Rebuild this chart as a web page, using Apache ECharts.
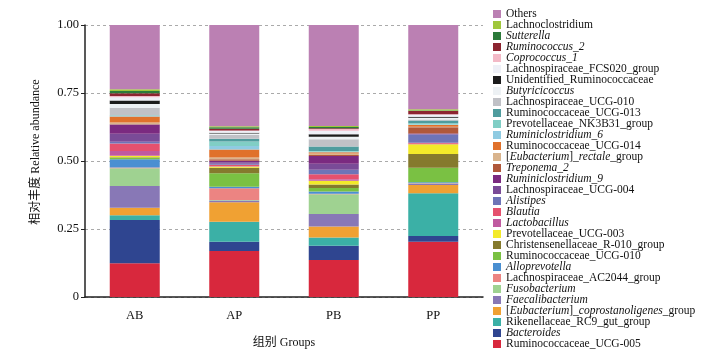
<!DOCTYPE html>
<html>
<head>
<meta charset="utf-8">
<script src="https://cdn.jsdelivr.net/npm/echarts@6/dist/echarts.min.js"></script>
<style>
html,body{margin:0;padding:0;background:#fff;}
#chart{width:706px;height:356px;}
</style>
</head>
<body>
<div id="chart"></div>
<script>
// Groups (x categories)
const categories = ['AB', 'AP', 'PB', 'PP'];

// Taxa, stacked from bottom to top
const seriesNames = [
  'Ruminococcaceae_UCG-005',
  'Bacteroides',
  'Rikenellaceae_RC9_gut_group',
  '[Eubacterium]_coprostanoligenes_group',
  'Faecalibacterium',
  'Fusobacterium',
  'Lachnospiraceae_AC2044_group',
  'Alloprevotella',
  'Ruminococcaceae_UCG-010',
  'Christensenellaceae_R-010_group',
  'Prevotellaceae_UCG-003',
  'Lactobacillus',
  'Blautia',
  'Alistipes',
  'Lachnospiraceae_UCG-004',
  'Ruminiclostridium_9',
  'Treponema_2',
  '[Eubacterium]_rectale_group',
  'Ruminococcaceae_UCG-014',
  'Ruminiclostridium_6',
  'Prevotellaceae_NK3B31_group',
  'Ruminococcaceae_UCG-013',
  'Lachnospiraceae_UCG-010',
  'Butyricicoccus',
  'Unidentified_Ruminococcaceae',
  'Lachnospiraceae_FCS020_group',
  'Coprococcus_1',
  'Ruminococcus_2',
  'Sutterella',
  'Lachnoclostridium',
  'Others'
];

// Relative abundance per group, aligned with seriesNames
const abValues = [0.124,0.159,0.018,0.027,0.080,0.065,0.003,0.030,0.006,0.002,0.005,0.018,0.027,0.007,0.029,0.034,0.001,0.007,0.022,0.001,0.002,0.001,0.028,0.014,0.012,0.012,0.005,0.010,0.008,0.007,0.236];
const apValues = [0.169,0.034,0.074,0.071,0.007,0.002,0.043,0.005,0.050,0.020,0.005,0.002,0.004,0.004,0.005,0.006,0.005,0.007,0.029,0.013,0.017,0.010,0.014,0.005,0.003,0.006,0.002,0.007,0.005,0.004,0.372];
const pbValues = [0.136,0.052,0.031,0.040,0.046,0.073,0.002,0.008,0.013,0.013,0.013,0.006,0.018,0.017,0.022,0.028,0.004,0.006,0.004,0.002,0.003,0.016,0.027,0.009,0.009,0.013,0.007,0.002,0.005,0.004,0.371];
const ppValues = [0.203,0.021,0.157,0.031,0.003,0.001,0.002,0.004,0.053,0.051,0.036,0.001,0.004,0.030,0.002,0.002,0.023,0.002,0.006,0.002,0.005,0.010,0.004,0.006,0.004,0.007,0.002,0.012,0.002,0.004,0.310];

// Y-axis ticks
const yTicks = [0, 0.25, 0.5, 0.75, 1];

// Style (not data)
const seriesColors = [
  '#D8283D','#2F4590','#3BB0A6','#F0A133','#8878B6','#9FD291','#EC8482','#4A8FD1',
  '#7AC143','#857A2D','#F3EA2A','#C05AA0','#E5516E','#6E74B7','#7A4B97','#7B2A80',
  '#B0583A','#D9B48D','#E0712B','#8FCBE2','#80CEC5','#4F9C9E','#C0C1C6','#EDF1F4',
  '#1C1C1C','#EEF0F7','#F3B9C7','#8C2430','#2B7A3A','#A0C73C','#BB80B3'
];

// Italic parts of legend labels (genus names italic)
const italicWhole = new Set(['Bacteroides','Faecalibacterium','Fusobacterium','Alloprevotella','Lactobacillus','Blautia','Alistipes','Ruminiclostridium_9','Treponema_2','Ruminiclostridium_6','Butyricicoccus','Coprococcus_1','Ruminococcus_2','Sutterella']);
function legendText(name) {
  if (italicWhole.has(name)) return '{i|' + name + '}';
  if (name === '[Eubacterium]_rectale_group') return '{n|[}{i|Eubacterium}{n|]_}{i|rectale}{n|_group}';
  if (name === '[Eubacterium]_coprostanoligenes_group') return '{n|[}{i|Eubacterium}{n|]_}{i|coprostanoligenes}{n|_group}';
  return '{n|' + name + '}';
}

const groupValues = [abValues, apValues, pbValues, ppValues];
const FONT = '"Liberation Serif", "Times New Roman", serif';
const LFS = 11.5;

const series = seriesNames.map((name, i) => ({
  name: name,
  type: 'bar',
  stack: 'total',
  barWidth: 50,
  itemStyle: { color: seriesColors[i] },
  emphasis: { disabled: true },
  data: groupValues.map(g => g[i])
}));

const chart = echarts.init(document.getElementById('chart'), null, { renderer: 'canvas' });
chart.setOption({
  animation: false,
  backgroundColor: '#ffffff',
  grid: { left: 85, right: 223, top: 25, bottom: 59 },
  legend: {
    orient: 'vertical',
    left: 488,
    top: 3,
    itemWidth: 8,
    itemHeight: 8,
    itemGap: -1,
    icon: 'rect',
    data: seriesNames.slice().reverse(),
    formatter: legendText,
    textStyle: {
      fontFamily: FONT, fontSize: LFS, color: '#111', lineHeight: 11,
      rich: {
        n: { fontFamily: FONT, fontSize: LFS, color: '#111', lineHeight: 11 },
        i: { fontFamily: FONT, fontSize: LFS, color: '#111', lineHeight: 11, fontStyle: 'italic' }
      }
    }
  },
  xAxis: {
    type: 'category',
    data: categories,
    name: '组别 Groups',
    nameLocation: 'middle',
    nameGap: 40,
    nameTextStyle: { fontFamily: FONT + ', "Noto Sans CJK SC"', fontSize: 12, color: '#111' },
    axisLine: { lineStyle: { color: '#222', width: 1.5 } },
    axisTick: { show: false },
    axisLabel: { fontFamily: FONT, fontSize: 12.5, color: '#111', margin: 12 }
  },
  yAxis: {
    type: 'value',
    min: yTicks[0],
    max: yTicks[yTicks.length - 1],
    interval: yTicks[1] - yTicks[0],
    name: '相对丰度 Relative abundance',
    nameLocation: 'middle',
    nameGap: 43,
    nameTextStyle: { fontFamily: FONT + ', "Noto Sans CJK SC"', fontSize: 12, color: '#111', padding: [0, 0, 0, 18] },
    axisLine: { show: true, lineStyle: { color: '#222', width: 1.5 } },
    axisTick: { show: true, length: 4, lineStyle: { color: '#222' } },
    axisLabel: {
      fontFamily: FONT, fontSize: 12.5, color: '#111', margin: 6,
      formatter: v => (v === 0 ? '0' : v.toFixed(2))
    },
    splitLine: { show: true, lineStyle: { color: '#aaa', type: [3, 3], width: 1 } }
  },
  series: series
});
</script>
</body>
</html>
